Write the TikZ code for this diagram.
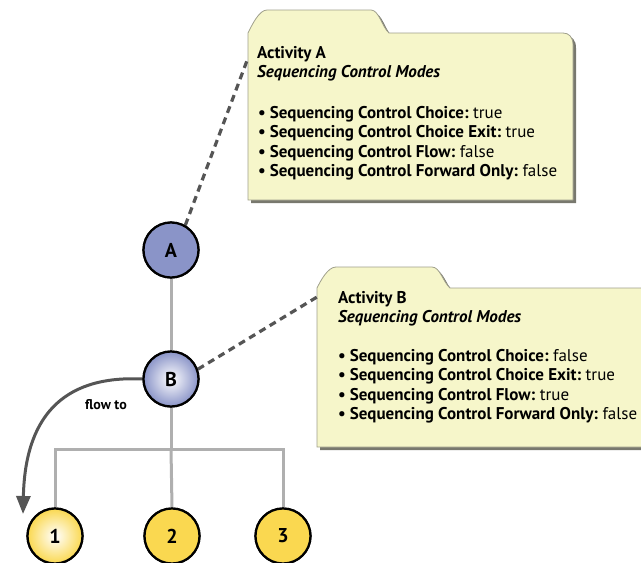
\documentclass[tikz,border=0pt]{standalone}
\usepackage{fontspec}
\setmainfont{PT Sans}
\usetikzlibrary{arrows.meta,shadings}
\definecolor{folderfill}{RGB}{246,246,202}
\definecolor{folderline}{RGB}{160,160,140}
\definecolor{foldershadow}{RGB}{120,120,110}
\definecolor{treegray}{RGB}{175,175,175}
\definecolor{dashgray}{RGB}{85,85,85}
\definecolor{blueA}{RGB}{138,148,200}
\definecolor{yellowN}{RGB}{250,216,80}
\tikzset{
  folder/.style={fill=folderfill, draw=folderline, line width=0.8pt},
  fshadow/.style={fill=foldershadow},
  treeline/.style={draw=treegray, line width=3pt},
  dashlink/.style={draw=dashgray, line width=3.2pt, dash pattern=on 7pt off 5pt},
  circ/.style={circle, draw=black, line width=2.2pt, minimum size=55pt, inner sep=0pt, font=\bfseries\fontsize{20}{20}\selectfont},
  blueplain/.style={circ, fill=blueA},
  blueshade/.style={circ, inner color=white, outer color=blueA},
  yellowplain/.style={circ, fill=yellowN},
  yellowshade/.style={circ, inner color=white, outer color=yellowN},
  ftext/.style={anchor=base west, inner sep=0pt, font=\fontsize{17}{17}\selectfont},
  flowarrow/.style={draw=dashgray, line width=3pt, -{Triangle[width=14pt,length=18pt]}},
}
\newcommand{\blt}{\textbf{•}\hspace{4pt}}
\begin{document}
\begin{tikzpicture}[x=1pt,y=-1pt]
\useasboundingbox (0,0) rectangle (641,563);
% ---- folder A ----
\fill[fshadow] (251,36) .. controls (255,28) and (262,13) .. (270,13) -- (374,13)
  .. controls (382,13) and (385,30) .. (392,36) -- (566,36)
  .. controls (572,36) and (576,40) .. (576,48) -- (576,203) -- (251,203) -- cycle;
\path[folder] (248,33) .. controls (252,25) and (259,10) .. (267,10) -- (371,10)
  .. controls (379,10) and (382,27) .. (389,33) -- (563,33)
  .. controls (569,33) and (573,37) .. (573,45) -- (573,200) -- (248,200) -- cycle;
\node[ftext] (a0) at (257,58) {\textbf{Activity A}};
\node[ftext] (a1) at (257,77) {\textbf{\textit{Sequencing Control Modes}}};
\node[ftext] (a2) at (258,118) {\blt\textbf{Sequencing Control Choice:}\ true};
\node[ftext] (a3) at (258,137.5) {\blt\textbf{Sequencing Control Choice Exit:}\ true};
\node[ftext] (a4) at (258,157) {\blt\textbf{Sequencing Control Flow:}\ false};
\node[ftext] (a5) at (258,176.5) {\blt\textbf{Sequencing Control Forward Only:}\ false};
\coordinate (fa) at (248,58);
% ---- folder B ----
\fill[fshadow] (320,291) .. controls (324,283) and (331,270) .. (339,270) -- (435,270)
  .. controls (443,270) and (446,285) .. (453,291) -- (660,291) -- (660,450) -- (320,450) -- cycle;
\path[folder] (317,288) .. controls (321,280) and (328,267) .. (336,267) -- (432,267)
  .. controls (440,267) and (443,282) .. (450,288) -- (660,288) -- (660,447) -- (317,447) -- cycle;
\node[ftext] (b0) at (338,303) {\textbf{Activity B}};
\node[ftext] (b1) at (338,322) {\textbf{\textit{Sequencing Control Modes}}};
\node[ftext] (b2) at (338,361) {\blt\textbf{Sequencing Control Choice:}\ false};
\node[ftext] (b3) at (338,380.5) {\blt\textbf{Sequencing Control Choice Exit:}\ true};
\node[ftext] (b4) at (338,400) {\blt\textbf{Sequencing Control Flow:}\ true};
\node[ftext] (b5) at (338,419.5) {\blt\textbf{Sequencing Control Forward Only:}\ false};
\coordinate (fb) at (317,297);
% ---- tree ----
\node[blueplain] (A) at (171,250) {A};
\node[blueshade] (B) at (171,379) {B};
\node[yellowshade] (n1) at (55,536) {1};
\node[yellowplain] (n2) at (172,536) {2};
\node[yellowplain] (n3) at (283,536) {3};
\coordinate (bar) at (171,449);
\draw[treeline] (A) -- (B);
\draw[treeline] (B) -- (bar);
\draw[treeline] (n1.north) |- (bar) -| (n3.north);
\draw[treeline] (bar) -- (n2.north);
\draw[dashlink] (A.60) -- (fa);
\draw[dashlink] (B.20) -- (fb);
\draw[flowarrow] (B.west) .. controls (60,375) and (25,420) .. (23,514);
\node[font=\bfseries\fontsize{14}{14}\selectfont, inner sep=0pt] (fl) at (106,405) {flow to};
% redraw circles above lines
\node[blueplain] at (A) {A};
\node[blueshade] at (B) {B};
\node[yellowshade] at (n1) {1};
\node[yellowplain] at (n2) {2};
\node[yellowplain] at (n3) {3};
\end{tikzpicture}
\end{document}
